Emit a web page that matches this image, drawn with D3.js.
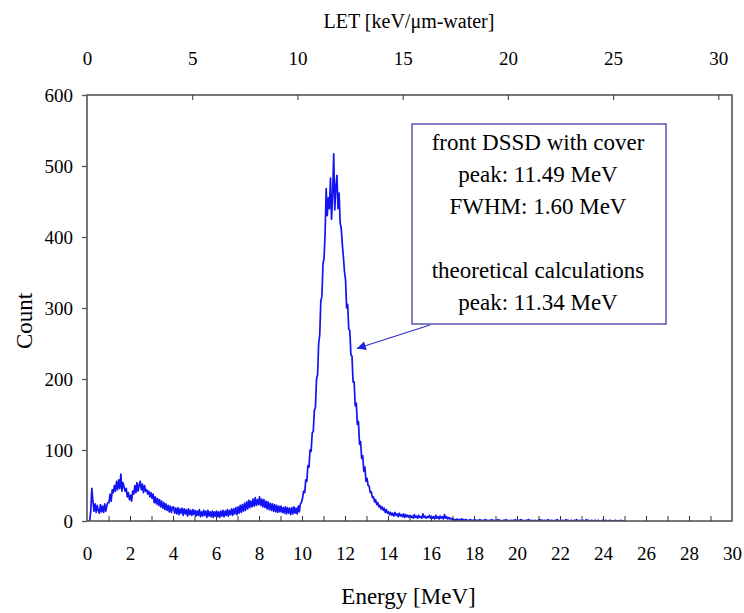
<!DOCTYPE html>
<html><head><meta charset="utf-8">
<script src="https://cdn.jsdelivr.net/npm/d3@7"></script>
<style>body{margin:0;background:#fff}svg{display:block}</style>
</head><body><svg id="c" width="744" height="613"></svg>
<script>
// ---- data ----
const binStart = 0;      // MeV
const binWidth = 0.05;   // MeV per channel
const counts = [
0,0,0,14,46,28,14,24,12,22,15,11,23,13,21,12,24,14,22,26,
26,38,28,44,40,50,42,56,44,58,46,66,42,54,48,42,46,34,40,30,
36,28,42,38,50,40,54,42,50,56,44,52,40,50,42,44,38,42,34,40,
32,38,26,34,24,32,22,30,20,28,18,26,16,24,15,22,13,21,12,19,
20,11,18,10,19,9,17,11,18,8,17,10,16,7,17,9,15,8,16,9,
15,7,14,8,16,6,13,7,15,8,14,5,15,7,13,6,14,5,13,7,
14,6,13,5,14,7,15,6,14,8,16,7,15,9,17,8,17,10,19,9,
20,11,22,12,23,14,25,15,27,17,29,19,28,20,31,21,33,22,30,23,
34,22,31,20,30,19,28,17,27,16,25,15,24,14,23,13,22,12,21,13,
21,12,19,11,20,10,19,11,18,9,19,10,20,11,18,10,21,13,24,26,
32,42,40,58,56,78,76,100,98,124,126,156,160,200,206,250,262,310,316,362,
370,405,468,430,455,440,483,425,460,517,438,470,487,440,462,420,412,390,372,352,
340,300,305,270,268,234,232,196,196,162,166,136,140,108,112,88,92,70,76,56,
60,50,49,40,41,33,34,27,30,23,26,20,22,17,20,15,18,12,16,11,
13,9,12,8,11,7,12,8,10,6,11,7,9,6,10,5,9,6,8,5,
8,5,7,4,9,5,7,4,8,5,6,4,10,5,7,4,6,5,8,4,
7,4,6,3,8,4,6,3,7,4,6,3,9,4,6,3,5,3,4,2,
3,1,2,1,3,0,2,1,3,1,2,0,2,1,1,0,2,1,1,0,
2,0,1,1,0,2,0,1,0,1,2,0,1,0,1,0,2,0,1,0,
1,0,2,0,1,0,0,1,0,2,0,1,0,0,1,0,1,0,2,0,
0,1,0,2,0,1,0,0,1,0,2,1,0,1,0,0,1,0,0,1,
0,2,0,1,0,1,0,0,2,0,1,0,1,0,0,1,0,2,0,0,
1,0,1,0,0,2,0,1,0,0,1,0,0,1,0,2,0,0,1,0,
0,1,0,0,2,0,1,0,0,1,0,0,1,0,0,1,0,0,0,1,
0,0,1,0,0,0,1,0,0,0,0,1,0,0,0,0,1,0,0,0
];
const energyDomain = [0, 30];
const letDomain = [0, 30.65];
const countDomain = [0, 600];
const energyLabelTicks = [0,2,4,6,8,10,12,14,16,18,20,22,24,26,28,30];
const energyMinorTicks = [1,2,3,4,5,6,7,8,9,10,11,12,13,14,15,16,17,18,19,20,21,22,23,24,25,26,27,28,29];
const letTicks = [0,5,10,15,20,25,30];
const countTicks = [0,100,200,300,400,500,600];
const xTitle = "Energy [MeV]";
const yTitle = "Count";
const topTitle = "LET [keV/\u03bcm-water]";
const boxLines = ["front  DSSD with cover","peak: 11.49 MeV","FWHM: 1.60 MeV","","theoretical calculations","peak: 11.34 MeV"];
const arrowTarget = {energy: 12.55, count: 243};

// ---- layout ----
const L = 87, R = 732, T = 95, B = 521;
const font = "'Liberation Serif','Times New Roman',serif";
const svg = d3.select("#c");
const x = d3.scaleLinear().domain(energyDomain).range([L, R]);
const xt = d3.scaleLinear().domain(letDomain).range([L, R]);
const y = d3.scaleLinear().domain(countDomain).range([B, T]);

svg.append("defs").append("clipPath").attr("id","clip")
  .append("rect").attr("x",L).attr("y",T-40).attr("width",R-L).attr("height",B-T+40);

// data line
const line = d3.line()
  .x((d,i) => x(binStart + (i + 0.5) * binWidth))
  .y(d => y(d));
svg.append("path").datum(counts)
  .attr("clip-path","url(#clip)")
  .attr("d", line)
  .attr("fill","none")
  .attr("stroke","#1212f2")
  .attr("stroke-width",1.7)
  .attr("stroke-linejoin","round");

// frame
const frameColor = "#555";
svg.append("rect").attr("x",L).attr("y",T).attr("width",R-L).attr("height",B-T)
  .attr("fill","none").attr("stroke",frameColor).attr("stroke-width",1.6);

// left axis
const gy = svg.append("g").attr("transform",`translate(${L},0)`)
  .call(d3.axisLeft(y).tickValues(countTicks).tickSize(5).tickPadding(9).tickFormat(d3.format("d")));
gy.select(".domain").remove();
gy.selectAll("line").attr("stroke",frameColor).attr("stroke-width",1.3);
gy.selectAll("text").attr("font-family",font).attr("font-size",19).attr("fill","#000");

// bottom axis: minor inside ticks + labels
const gb = svg.append("g").attr("transform",`translate(0,${B})`)
  .call(d3.axisTop(x).tickValues(energyMinorTicks).tickSize(5).tickFormat(""));
gb.select(".domain").remove();
gb.selectAll("line").attr("stroke","#333").attr("stroke-width",1);
const gbl = svg.append("g").attr("transform",`translate(0,${B})`)
  .call(d3.axisBottom(x).tickValues(energyLabelTicks).tickSize(0).tickPadding(26).tickFormat(d3.format("d")));
gbl.select(".domain").remove();
gbl.selectAll("text").attr("font-family",font).attr("font-size",19).attr("fill","#000");

// top axis: inside ticks + labels
const gt = svg.append("g").attr("transform",`translate(0,${T})`)
  .call(d3.axisBottom(xt).tickValues(letTicks.filter(v=>v>0)).tickSize(5).tickFormat(""));
gt.select(".domain").remove();
gt.selectAll("line").attr("stroke","#333").attr("stroke-width",1);
const gtl = svg.append("g").attr("transform",`translate(0,${T})`)
  .call(d3.axisTop(xt).tickValues(letTicks).tickSize(0).tickPadding(30).tickFormat(d3.format("d")));
gtl.select(".domain").remove();
gtl.selectAll("text").attr("font-family",font).attr("font-size",19).attr("fill","#000");

// titles
svg.append("text").attr("x",(L+R)/2 - 1).attr("y",604).attr("text-anchor","middle")
  .attr("font-family",font).attr("font-size",23).text(xTitle);
svg.append("text").attr("transform","translate(32,321) rotate(-90)").attr("text-anchor","middle")
  .attr("font-family",font).attr("font-size",23).text(yTitle);
svg.append("text").attr("x",409).attr("y",28).attr("text-anchor","middle")
  .attr("font-family",font).attr("font-size",20).text(topTitle);

// annotation box
const bx = 412, by = 124, bw = 254, bh = 200;
svg.append("rect").attr("x",bx).attr("y",by).attr("width",bw).attr("height",bh)
  .attr("fill","#fff").attr("stroke","#2b2b9a").attr("stroke-width",1.2);
svg.append("g").selectAll("text").data(boxLines).join("text")
  .attr("x", bx + bw/2 - 1)
  .attr("y",(d,i)=> by + 26 + i*32)
  .attr("text-anchor","middle")
  .attr("font-family",font).attr("font-size",23).attr("fill","#000")
  .text(d=>d);

// arrow
const ax0 = 430, ay0 = by + bh + 1;
const tx = x(arrowTarget.energy), ty = y(arrowTarget.count);
svg.append("defs").append("marker").attr("id","ah")
  .attr("viewBox","0 0 10 10").attr("refX",10).attr("refY",5)
  .attr("markerWidth",13).attr("markerHeight",9).attr("markerUnits","userSpaceOnUse")
  .attr("orient","auto")
  .append("path").attr("d","M0,0L10,5L0,10Z").attr("fill","#2020e0");
svg.append("line").attr("x1",ax0).attr("y1",ay0).attr("x2",tx).attr("y2",ty)
  .attr("stroke","#3030c8").attr("stroke-width",1.2).attr("marker-end","url(#ah)");
</script></body></html>
